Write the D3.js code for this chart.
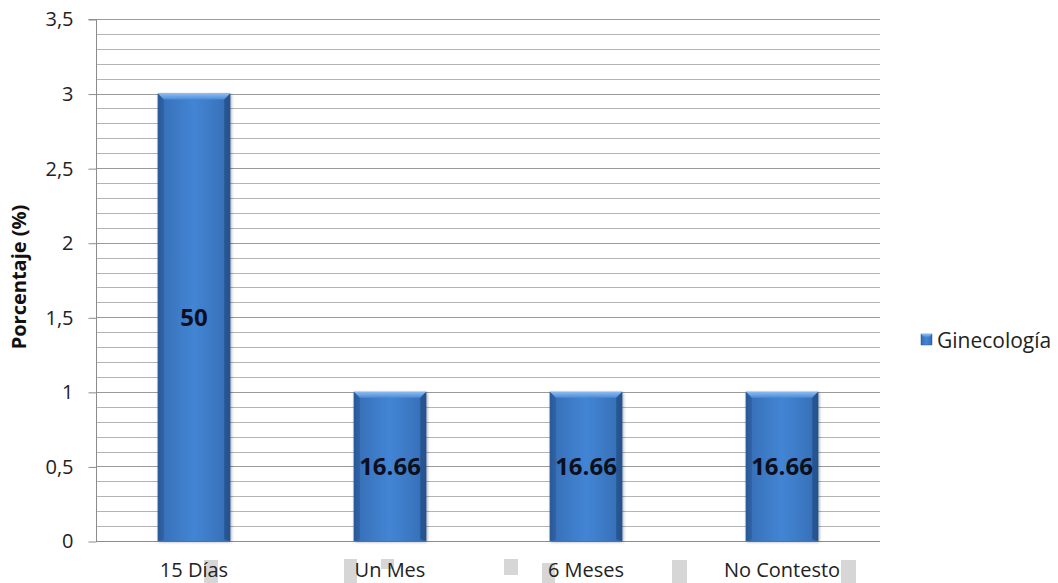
<!DOCTYPE html>
<html>
<head>
<meta charset="utf-8">
<script src="https://cdn.jsdelivr.net/npm/d3@7"></script>
<style>
  html, body { margin: 0; padding: 0; background: #fff; }
  svg { display: block; font-family: "Open Sans", Lato, sans-serif; }
</style>
</head>
<body>
<svg id="chart" width="1058" height="583"></svg>
<script>
// Respuestas de Ginecología por periodo
const categories = ["15 Días", "Un Mes", "6 Meses", "No Contesto"];
const counts = [3, 1, 1, 1];
const seriesName = "Ginecología";
const yTicks = [0, 0.5, 1, 1.5, 2, 2.5, 3, 3.5];
const yTickLabels = ["0", "0,5", "1", "1,5", "2", "2,5", "3", "3,5"];

// Percentage of total, truncated to two decimals (3 of 6 -> 50, 1 of 6 -> 16.66)
const total = d3.sum(counts);
const pctLabels = counts.map(v => String(Math.floor(v / total * 10000) / 100));

const svg = d3.select("#chart");
const margin = { left: 96, right: 178, top: 19, bottom: 42 };
const W = 1058, H = 583;
const x0 = margin.left, x1 = W - margin.right;
const y0 = H - margin.bottom, y1 = margin.top;

const x = d3.scaleBand().domain(categories).range([x0, x1]).paddingInner(0.63).paddingOuter(0.315);
const y = d3.scaleLinear().domain([0, 3.5]).range([y0, y1]);

// Gradients for the bevelled bars
const defs = svg.append("defs");
const body = defs.append("linearGradient").attr("id", "barBody").attr("x1", 0).attr("x2", 1).attr("y1", 0).attr("y2", 0);
[[0, "#2c5c9c"], [0.1, "#3872bb"], [0.5, "#4385d4"], [0.9, "#3872bb"], [1, "#2c5c9c"]]
  .forEach(([o, c]) => body.append("stop").attr("offset", o).attr("stop-color", c));
const topG = defs.append("linearGradient").attr("id", "barTop").attr("x1", 0).attr("x2", 0).attr("y1", 0).attr("y2", 1);
[[0, "#8cbcf0"], [1, "#4a8ad8"]].forEach(([o, c]) => topG.append("stop").attr("offset", o).attr("stop-color", c));
const shadow = defs.append("filter").attr("id", "shadow").attr("x", -0.2).attr("y", -0.1).attr("width", 1.4).attr("height", 1.2);
shadow.append("feGaussianBlur").attr("in", "SourceAlpha").attr("stdDeviation", 1.5);
shadow.append("feOffset").attr("dx", 1).attr("dy", 1).attr("result", "b");
shadow.append("feComponentTransfer").append("feFuncA").attr("type", "linear").attr("slope", 0.35);
const merge = shadow.append("feMerge");
merge.append("feMergeNode");
merge.append("feMergeNode").attr("in", "SourceGraphic");

// Minor gridlines every 0.1, majors every 0.5
const minor = d3.range(1, 36).map(i => i / 10);
svg.append("g").selectAll("line").data(minor).join("line")
  .attr("x1", x0).attr("x2", x1)
  .attr("y1", d => Math.round(y(d)) + 0.5).attr("y2", d => Math.round(y(d)) + 0.5)
  .attr("stroke", d => (Math.round(d * 10) % 5 === 0) ? "#9a9a9a" : "#b4b4b4")
  .attr("stroke-width", 1);

// Y axis
const yAxis = d3.axisLeft(y).tickValues(yTicks).tickFormat((d, i) => yTickLabels[i]).tickSize(8).tickPadding(15);
const gy = svg.append("g").attr("transform", `translate(${x0 + 0.5},0.5)`).call(yAxis);
gy.select(".domain").attr("stroke", "#8c8c8c").attr("d", `M-8,${y1}H0V${y0}`);
gy.selectAll(".tick line").attr("stroke", "#8c8c8c");
gy.selectAll(".tick text").attr("fill", "#222").style("font-size", "20px").style("font-family", "'Open Sans', sans-serif");

// Baseline
svg.append("line").attr("x1", x0).attr("x2", x1)
  .attr("y1", Math.round(y0) + 0.5).attr("y2", Math.round(y0) + 0.5)
  .attr("stroke", "#8c8c8c");

// Bars
const bw = x.bandwidth();
const bev = 6;
const bars = svg.append("g").selectAll("g").data(counts).join("g")
  .attr("filter", "url(#shadow)");
bars.append("rect")
  .attr("x", (d, i) => x(categories[i])).attr("y", d => y(d))
  .attr("width", bw).attr("height", d => y(0) - y(d))
  .attr("fill", "url(#barBody)");
bars.append("path")
  .attr("d", (d, i) => {
    const l = x(categories[i]), t = y(d);
    return `M${l},${t}H${l + bw}L${l + bw - bev},${t + bev}H${l + bev}Z`;
  })
  .attr("fill", "url(#barTop)");
bars.append("path")
  .attr("d", (d, i) => {
    const l = x(categories[i]), t = y(d), b = y(0);
    return `M${l},${t}L${l + bev},${t + bev}V${b - 2}L${l},${b}Z`;
  })
  .attr("fill", "#2a5896").attr("opacity", 0.55);
bars.append("path")
  .attr("d", (d, i) => {
    const r = x(categories[i]) + bw, t = y(d), b = y(0);
    return `M${r},${t}L${r - bev},${t + bev}V${b - 2}L${r},${b}Z`;
  })
  .attr("fill", "#22497e").attr("opacity", 0.6);

// Value labels centred in each bar
svg.append("g").selectAll("text").data(counts).join("text")
  .attr("x", (d, i) => x(categories[i]) + bw / 2)
  .attr("y", d => (y(d) + y(0)) / 2)
  .attr("dy", "0.36em")
  .attr("text-anchor", "middle")
  .attr("fill", "#0c0f1e")
  .style("font-size", "24px").style("font-weight", "bold")
  .text((d, i) => pctLabels[i]);

// Label highlight boxes around the category names
const boxes = [
  [0, 10, 24, 560, 583], [1, -46, -33, 559, 583], [1, -9, 4, 559, 569],
  [2, -82, -68, 559, 575], [2, -44, -31, 563, 583], [3, -110, -95, 560, 583], [3, 59, 74, 560, 583]
];
svg.append("g").selectAll("rect").data(boxes).join("rect")
  .attr("x", d => x(categories[d[0]]) + bw / 2 + d[1])
  .attr("width", d => d[2] - d[1])
  .attr("y", d => d[3]).attr("height", d => d[4] - d[3])
  .attr("fill", "#d6d6d6");

// Category labels
svg.append("g").selectAll("text").data(categories).join("text")
  .attr("x", d => x(d) + bw / 2).attr("y", 577)
  .attr("text-anchor", "middle").attr("fill", "#222")
  .style("font-size", "20px")
  .text(d => d);

// Y axis title
svg.append("text")
  .attr("transform", "translate(26,277) rotate(-90)")
  .attr("text-anchor", "middle").attr("fill", "#111")
  .style("font-size", "20px").style("font-weight", "bold")
  .text("Porcentaje (%)");

// Legend
const lg = svg.append("g").attr("transform", "translate(921,334)");
lg.append("rect").attr("width", 11).attr("height", 11).attr("fill", "url(#barBody)").attr("stroke", "#2c5c9c").attr("stroke-width", 0.5);
lg.append("path").attr("d", "M0,0H11L8,3H3Z").attr("fill", "url(#barTop)");
lg.append("text").attr("x", 16).attr("y", 6).attr("dy", "0.36em")
  .attr("fill", "#222").style("font-size", "21px").text(seriesName);
</script>
</body>
</html>
